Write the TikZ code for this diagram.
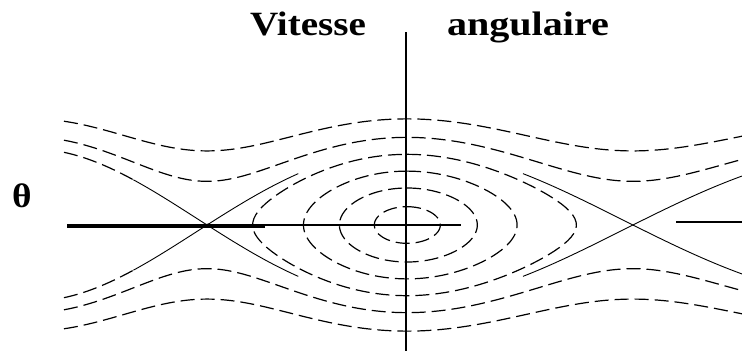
\documentclass[tikz,border=0pt]{standalone}
\usepackage{fontspec}
\setmainfont{Liberation Serif}
\usepackage{graphicx}
\usepackage{tikz}
\usetikzlibrary{positioning}

\begin{document}
\begin{tikzpicture}[
    x=1pt, y=-1pt,
    declare function={px(\d)=407+1.183*\d+13*(\d/180)^2;},
    orbit/.style={line width=1.2pt, dash pattern=on 14pt off 6pt},
    sep/.style={line width=0.9pt},
    axe/.style={line width=1.1pt},
    lbl/.style={font=\fontsize{34}{40}\selectfont\bfseries, inner sep=0pt}
]
\useasboundingbox (0,0) rectangle (742,351);

\node[lbl, anchor=base] (vitesse) at (308,35) {\scalebox{1.15}[1]{Vitesse}};
\node[lbl, anchor=base] (angulaire) at (528,35) {\scalebox{1.18}[1]{angulaire}};
\node[lbl] (theta) at (22,196) {\scalebox{1.1}[1]{θ}};

\draw[axe] (406,32) -- (406,351);
\draw[line width=2.6pt] (406,80) -- (406,130);
\draw[line width=3.5pt] (67,226) -- (265,226);
\draw[axe] (265,225) -- (461,225);
\draw[axe] (676,222) -- (742,222);

\foreach \k in {0.241,0.487,0.709,0.930}
  \draw[orbit] plot[domain=0:360, samples=120, variable=\s]
    ({px(2*asin(\k*sin(\s)))}, {225-76*\k*cos(\s)}) -- cycle;

\foreach \kk in {1.95,1.33} {
  \draw[orbit] plot[domain=-326:262, samples=150, variable=\t]
    ({px(\t)}, {225-76*sqrt(\kk-pow(sin(\t/2),2))});
  \draw[orbit] plot[domain=-326:262, samples=150, variable=\t]
    ({px(\t)}, {225+76*sqrt(\kk-pow(sin(\t/2),2))});
}

\foreach \sg in {-1,1} {
  \draw[sep] plot[domain=-253:-95, samples=60, variable=\t]
    ({px(\t)}, {225+\sg*76*abs(cos(\t/2))});
  \draw[sep] plot[domain=95:262, samples=60, variable=\t]
    ({px(\t)}, {225+\sg*76*abs(cos(\t/2))});
  \draw[orbit] plot[domain=-326:-253, samples=30, variable=\t]
    ({px(\t)}, {225+\sg*76*abs(cos(\t/2))});
}
\end{tikzpicture}
\end{document}
